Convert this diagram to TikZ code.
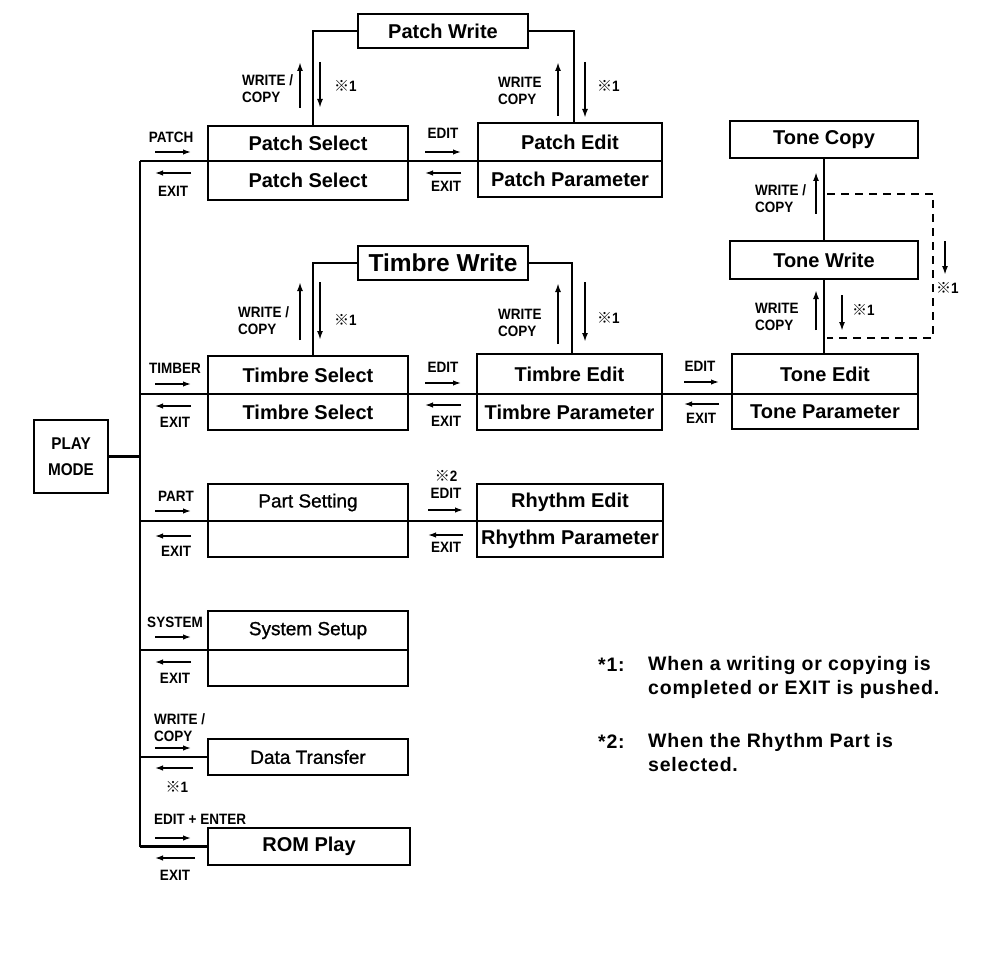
\documentclass[tikz,border=0pt]{standalone}
\usepackage{fontspec}
\setmainfont{Liberation Sans}
\newfontfamily\labff{Liberation Sans}[FakeStretch=0.9]
\newfontfamily\medff{Liberation Sans}[FakeBold=1]
\newfontfamily\noteff{Liberation Sans}[LetterSpace=4]
\newfontfamily\cjkff{Noto Sans CJK JP}
\usetikzlibrary{arrows.meta}
\newcommand\boxfnt{\fontsize{20}{22}\selectfont\bfseries}
\newcommand\bigfnt{\fontsize{24.5}{26}\selectfont\bfseries}
\newcommand\medfnt{\medff\fontsize{19}{22}\selectfont}
\newcommand\labfnt{\labff\fontsize{15}{17}\selectfont\bfseries}
\newcommand\notefnt{\noteff\fontsize{19.5}{24}\selectfont\bfseries}
\newcommand\refm{{\cjkff\fontsize{15}{15}\selectfont ※}}
\tikzset{
  box/.style={draw, line width=2.2pt, inner sep=0pt, outer sep=0pt, font=\boxfnt},
  medbox/.style={box, font=\medfnt},
  conn/.style={line width=2.8pt},
  arr/.style={line width=1.5pt, -{Latex[length=8pt,width=5.5pt]}},
  varr/.style={line width=2.2pt, -{Latex[length=9pt,width=6pt]}},
  lab/.style={inner sep=0pt, font=\labfnt},
  wlab/.style={lab, align=left, anchor=west},
  note/.style={inner sep=0pt, font=\notefnt, anchor=west, align=left},
}
\begin{document}
\begin{tikzpicture}[x=1pt,y=-1pt]
\useasboundingbox (0,0) rectangle (981,968);
\fill[white] (0,0) rectangle (981,968);

% ---------- boxes ----------
\node[box, minimum width=170pt, minimum height=34pt] (PW) at (443,31) {Patch Write};
\node[box, minimum width=200pt, minimum height=35pt] (PSa) at (308,143.5) {Patch Select};
\node[box, minimum width=200pt, minimum height=39pt] (PSb) at (308,180.5) {Patch Select};
\node[box, minimum width=184pt, minimum height=38pt] (PEa) at (570,142) {Patch Edit};
\node[box, minimum width=184pt, minimum height=36pt] (PEb) at (570,179) {Patch Parameter};

\node[box, minimum width=188pt, minimum height=37pt] (TC) at (824,139.5) {Tone Copy};
\node[box, minimum width=188pt, minimum height=38pt] (TW) at (824,260) {Tone Write};
\node[box, minimum width=186pt, minimum height=40pt] (TEa) at (825,374) {Tone Edit};
\node[box, minimum width=186pt, minimum height=35pt] (TEb) at (825,411.5) {Tone Parameter};

\node[box, font=\bigfnt, minimum width=170pt, minimum height=34pt] (TWr) at (443,263) {Timbre Write};
\node[box, minimum width=200pt, minimum height=38pt] (TSa) at (308,375) {Timbre Select};
\node[box, minimum width=200pt, minimum height=36pt] (TSb) at (308,412) {Timbre Select};
\node[box, minimum width=185pt, minimum height=40pt] (TDa) at (569.5,374) {Timbre Edit};
\node[box, minimum width=185pt, minimum height=36pt] (TDb) at (569.5,412) {Timbre Parameter};

\node[medbox, align=center, minimum width=74pt, minimum height=73pt, font=\labff\fontsize{17}{26}\selectfont\bfseries] (PM) at (71,456.5) {PLAY\\MODE};

\node[medbox, minimum width=200pt, minimum height=37pt] (PTa) at (308,502.5) {Part Setting};
\node[medbox, minimum width=200pt, minimum height=36pt] (PTb) at (308,539) {};
\node[box, minimum width=186pt, minimum height=37pt] (REa) at (570,502.5) {Rhythm Edit};
\node[box, minimum width=186pt, minimum height=36pt] (REb) at (570,539) {Rhythm Parameter};

\node[medbox, minimum width=200pt, minimum height=39pt] (SSa) at (308,630.5) {System Setup};
\node[medbox, minimum width=200pt, minimum height=36pt] (SSb) at (308,668) {};

\node[medbox, minimum width=200pt, minimum height=36pt] (DT) at (308,757) {Data Transfer};
\node[box, minimum width=202pt, minimum height=37pt] (ROM) at (309,846.5) {ROM Play};

% ---------- bus and connectors ----------
\coordinate (bT) at (140,161);
\coordinate (bB) at (140,846.5);
\draw[conn] (bT) -- (bB);
\draw[conn] (bT) -- (PEa.south west);
\draw[conn] (bT |- TSb.north) -- (TEa.south west);
\draw[conn] (PM.east) -- (PM.east -| bT);
\draw[conn] (bT |- PTb.north) -- (REa.south west);
\draw[conn] (bT |- SSb.north) -- (SSb.north west);
\draw[conn] (bT |- DT.west) -- (DT.west);
\draw[conn] (bB) -- (ROM.west);

\draw[conn] (PW.west) -| ([xshift=5pt]PSa.north);
\draw[conn] (PW.east) -| ([xshift=4pt]PEa.north);
\draw[conn] (TWr.west) -| ([xshift=5pt]TSa.north);
\draw[conn] (TWr.east) -| ([xshift=2.5pt]TDa.north);
\draw[conn] (TC.south) -- (TW.north);
\draw[conn] (TW.south) -- (TW.south |- TEa.north);

% dashed return path
\coordinate (d1) at (827,194);
\coordinate (d2) at (933,194);
\coordinate (d3) at (933,338);
\coordinate (d4) at (827,338);
\draw[line width=1.8pt, dash pattern=on 8pt off 6pt] (d1) -- (d2) -- (d3) -- (d4);

% ---------- patch row labels ----------
\node[lab] (lPatch) at (171,137) {PATCH};
\draw[arr] (155,152) -- (191,152);
\draw[arr] (191,173) -- (155,173);
\node[lab] (lExit1) at (173,191) {EXIT};
\node[wlab] (lWC1) at (242,89) {WRITE /\\COPY};
\draw[varr] (300,108) -- (300,62);
\draw[varr] (320,62) -- (320,108);
\node[lab, anchor=west] (r1) at (334,86) {\refm 1};
\node[wlab] (lWC2) at (498,91) {WRITE\\COPY};
\draw[varr] (558,116) -- (558,62);
\draw[varr] (585,62) -- (585,118);
\node[lab, anchor=west] (r2) at (597,86) {\refm 1};
\node[lab] (lEdit1) at (443,133) {EDIT};
\draw[arr] (425,152) -- (461,152);
\draw[arr] (461,173) -- (425,173);
\node[lab] (lExit2) at (446,186) {EXIT};

% ---------- tone column labels ----------
\node[wlab] (lWC3) at (755,199) {WRITE /\\COPY};
\draw[varr] (816,214) -- (816,172);
\draw[varr] (945,241) -- (945,275);
\node[lab, anchor=west] (r3) at (936,288) {\refm 1};
\node[wlab] (lWC4) at (755,317) {WRITE\\COPY};
\draw[varr] (816,330) -- (816,290);
\draw[varr] (842,295) -- (842,331);
\node[lab, anchor=west] (r4) at (852,310) {\refm 1};

% ---------- timbre row labels ----------
\node[lab] (lTim) at (175,368) {TIMBER};
\draw[arr] (155,384) -- (191,384);
\draw[arr] (191,406) -- (155,406);
\node[lab] (lExit3) at (175,422) {EXIT};
\node[wlab] (lWC5) at (238,321) {WRITE /\\COPY};
\draw[varr] (300,340) -- (300,282);
\draw[varr] (320,282) -- (320,340);
\node[lab, anchor=west] (r5) at (334,320) {\refm 1};
\node[wlab] (lWC6) at (498,323) {WRITE\\COPY};
\draw[varr] (558,344) -- (558,283);
\draw[varr] (585,282) -- (585,342);
\node[lab, anchor=west] (r6) at (597,318) {\refm 1};
\node[lab] (lEdit2) at (443,367) {EDIT};
\draw[arr] (425,383) -- (461,383);
\draw[arr] (461,405) -- (425,405);
\node[lab] (lExit4) at (446,421) {EXIT};
\node[lab] (lEdit3) at (700,366) {EDIT};
\draw[arr] (684,382) -- (719,382);
\draw[arr] (719,404) -- (684,404);
\node[lab] (lExit5) at (701,418) {EXIT};

% ---------- part row labels ----------
\node[lab] (lPart) at (176,496) {PART};
\draw[arr] (155,511) -- (191,511);
\draw[arr] (191,536) -- (155,536);
\node[lab] (lExit6) at (176,551) {EXIT};
\node[lab] (r7) at (446,476) {\refm 2};
\node[lab] (lEdit4) at (446,493) {EDIT};
\draw[arr] (428,510) -- (463,510);
\draw[arr] (463,535) -- (428,535);
\node[lab] (lExit7) at (446,547) {EXIT};

% ---------- system row labels ----------
\node[lab] (lSys) at (175,622) {SYSTEM};
\draw[arr] (155,637) -- (191,637);
\draw[arr] (191,662) -- (155,662);
\node[lab] (lExit8) at (175,678) {EXIT};

% ---------- data transfer labels ----------
\node[wlab] (lWC7) at (154,728) {WRITE /\\COPY};
\draw[arr] (155,748) -- (191,748);
\draw[arr] (193,768) -- (155,768);
\node[lab] (r8) at (177,787) {\refm 1};

% ---------- ROM play labels ----------
\node[lab, anchor=west] (lEE) at (154,819) {EDIT + ENTER};
\draw[arr] (155,838) -- (191,838);
\draw[arr] (195,858) -- (155,858);
\node[lab] (lExit9) at (175,875) {EXIT};

% ---------- notes ----------
\node[note] (n1k) at (598,665) {*1:};
\node[note, anchor=north west] (n1) at (648,656) {When a writing or copying is\\completed or EXIT is pushed.};
\node[note] (n2k) at (598,742) {*2:};
\node[note, anchor=north west] (n2) at (648,733) {When the Rhythm Part is\\selected.};
\end{tikzpicture}
\end{document}
